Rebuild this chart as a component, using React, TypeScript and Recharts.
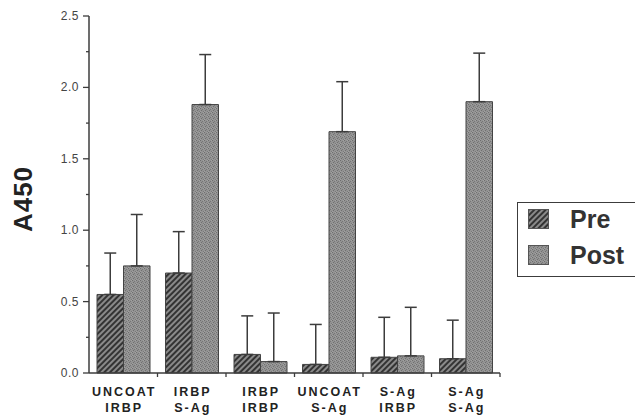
import { BarChart, Bar, XAxis, YAxis, ErrorBar, Legend } from "recharts";

const topLabels = ["UNCOAT", "IRBP", "IRBP", "UNCOAT", "S-Ag", "S-Ag"];
const bottomLabels = ["IRBP", "S-Ag", "IRBP", "S-Ag", "IRBP", "S-Ag"];

const pre = [0.55, 0.7, 0.13, 0.06, 0.11, 0.1];
const preSd = [0.29, 0.29, 0.27, 0.28, 0.28, 0.27];
const post = [0.75, 1.88, 0.08, 1.69, 0.12, 1.9];
const postSd = [0.36, 0.35, 0.34, 0.35, 0.34, 0.34];

const yTicks = [0, 0.25, 0.5, 0.75, 1, 1.25, 1.5, 1.75, 2, 2.25, 2.5];

// upward-only error bars: [below, above]
const data = topLabels.map((t, i) => ({
  name: `${t} ${bottomLabels[i]}`,
  pre: pre[i],
  post: post[i],
  preErr: [0, preSd[i]],
  postErr: [0, postSd[i]],
}));

const FONT = '"Liberation Sans", Arial, Helvetica, sans-serif';
const INK = "#3c3c3c";

function YTick(props: any) {
  const { x, y, payload } = props;
  const v = payload.value;
  const major = Math.abs(v * 2 - Math.round(v * 2)) < 1e-6;
  return (
    <g>
      <line x1={x - (major ? 6 : 3)} x2={x} y1={y} y2={y} stroke={INK} strokeWidth={1.3} />
      {major && (
        <text x={x - 10} y={y} dy={4} textAnchor="end" fontSize={12} fill="#444" fontFamily={FONT} letterSpacing={0.5}>
          {v.toFixed(1)}
        </text>
      )}
    </g>
  );
}

function XTick(props: any) {
  const { x, y, index, width, visibleTicksCount } = props;
  const half = width / visibleTicksCount / 2;
  return (
    <g>
      <line x1={x + half} x2={x + half} y1={y} y2={y + 4} stroke={INK} strokeWidth={1.3} />
      <text x={x + 1} y={y + 23} textAnchor="middle" fontSize={12.5} fontWeight="bold" fill="#222" fontFamily={FONT} letterSpacing={2}>
        {topLabels[index]}
      </text>
      <text x={x + 1} y={y + 39} textAnchor="middle" fontSize={12.5} fontWeight="bold" fill="#222" fontFamily={FONT} letterSpacing={2}>
        {bottomLabels[index]}
      </text>
    </g>
  );
}

function Swatch({ fill }: { fill: string }) {
  return (
    <svg width={21} height={20} style={{ display: "block" }}>
      <rect x={0.5} y={0.5} width={20} height={19} fill={fill} stroke="#555" strokeWidth={1} />
    </svg>
  );
}

function LegendBox() {
  const rows = [
    { label: "Pre", fill: "url(#hatch)", top: 6 },
    { label: "Post", fill: "url(#stipple)", top: 42 },
  ];
  return (
    <div
      style={{
        position: "relative",
        width: 140,
        height: 73,
        border: `1.5px solid ${INK}`,
        background: "#fff",
        fontFamily: FONT,
      }}
    >
      {rows.map((r) => (
        <div key={r.label} style={{ position: "absolute", left: 10, top: r.top, display: "flex", alignItems: "center" }}>
          <Swatch fill={r.fill} />
          <span style={{ marginLeft: 21, fontSize: 25, fontWeight: "bold", color: "#333", lineHeight: "20px" }}>
            {r.label}
          </span>
        </div>
      ))}
    </div>
  );
}

export default function App() {
  return (
    <div style={{ position: "absolute", left: 0, top: 0, width: 635, height: 415, overflow: "hidden", background: "#fff" }}>
      <BarChart
        width={635}
        height={415}
        data={data}
        margin={{ top: 16, right: 135, bottom: 0, left: 29 }}
        barGap={0}
        barSize={26.5}
      >
        <defs>
          <pattern id="hatch" width="4" height="4" patternUnits="userSpaceOnUse" patternTransform="rotate(45)">
            <rect width="4" height="4" fill="#8a8a8a" />
            <line x1="1" y1="0" x2="1" y2="4" stroke="#333" strokeWidth="2" />
          </pattern>
          <pattern id="stipple" width="4" height="4" patternUnits="userSpaceOnUse">
            <rect width="4" height="4" fill="#939393" />
            <rect x="0" y="0" width="1" height="1" fill="#6e6e6e" />
            <rect x="2" y="1" width="1" height="1" fill="#777" />
            <rect x="1" y="2" width="1" height="1" fill="#707070" />
            <rect x="3" y="3" width="1" height="1" fill="#7a7a7a" />
            <rect x="3" y="0" width="1" height="1" fill="#a2a2a2" />
            <rect x="0" y="3" width="1" height="1" fill="#a0a0a0" />
          </pattern>
        </defs>
        <XAxis
          dataKey="name"
          height={42}
          interval={0}
          tickSize={0}
          tickMargin={0}
          tickLine={false}
          axisLine={{ stroke: INK, strokeWidth: 1.5 }}
          tick={<XTick />}
        />
        <YAxis
          width={60}
          domain={[0, 2.5]}
          ticks={yTicks}
          interval={0}
          tickSize={0}
          tickMargin={0}
          tickLine={false}
          axisLine={{ stroke: INK, strokeWidth: 1.5 }}
          tick={<YTick />}
          label={() => (
            <text
              x={23}
              y={199}
              transform="rotate(-90, 23, 199)"
              textAnchor="middle"
              dominantBaseline="central"
              fontSize={26}
              fontWeight="bold"
              fill="#222"
              fontFamily={FONT}
              letterSpacing={1}
            >
              A450
            </text>
          )}
        />
        <Legend
          layout="horizontal"
          verticalAlign="middle"
          align="center"
          content={() => <LegendBox />}
          wrapperStyle={{ position: "absolute", left: 517, top: 202, width: 140, height: 76 }}
        />
        <Bar dataKey="pre" fill="url(#hatch)" stroke="#444" strokeWidth={1} isAnimationActive={false}>
          <ErrorBar dataKey="preErr" width={6} stroke={INK} strokeWidth={1.5} direction="y" />
        </Bar>
        <Bar dataKey="post" fill="url(#stipple)" stroke="#444" strokeWidth={1} isAnimationActive={false}>
          <ErrorBar dataKey="postErr" width={6} stroke={INK} strokeWidth={1.5} direction="y" />
        </Bar>
      </BarChart>
    </div>
  );
}
